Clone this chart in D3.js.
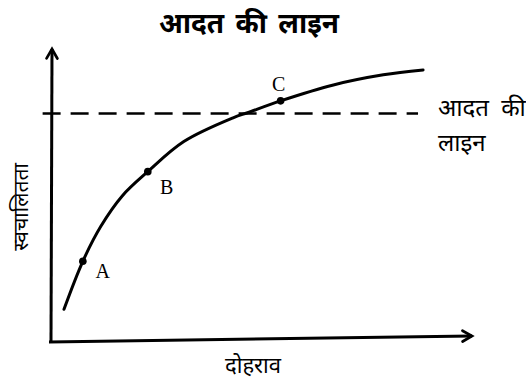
<!DOCTYPE html>
<html lang="hi">
<head>
<meta charset="UTF-8">
<title>आदत की लाइन</title>
<script src="https://d3js.org/d3.v7.min.js"></script>
<style>
  body { margin: 0; background: #fff; }
  .hi { font-family: "Noto Sans Devanagari", "Lohit Devanagari", "Noto Sans", sans-serif; fill: #000; }
  .pt { font-family: "Liberation Serif", "DejaVu Serif", serif; font-size: 20px; fill: #000; }
</style>
</head>
<body>
<svg id="chart" width="526" height="385"></svg>
<script>
// curve: repetition (x) vs automaticity (y), 0..100
const repetition   = [3.1, 7.6, 11.9, 17.0, 23.1, 31.7, 43.6, 46.9, 54.8, 67.4, 79.3, 88.8];
const automaticity = [10.3, 26.9, 39.0, 49.5, 57.9, 68.3, 76.6, 78.3, 82.4, 87.9, 91.4, 93.1];

// marked points A, B, C
const pointLabels = ["A", "B", "C"];
const pointX = [7.6, 23.1, 54.8];
const pointY = [26.9, 57.9, 82.4];

const habitLevel = 78.0;
const habitRange = [-2, 87.6];

const title = "आदत की लाइन";
const xLabel = "दोहराव";
const yLabel = "स्वचालितता";
const habitLabel = ["आदत की", "लाइन"];

const svg = d3.select("#chart");
const margin = { top: 50, right: 56, bottom: 46, left: 51 };
const width = 526 - margin.left - margin.right;
const height = 385 - margin.top - margin.bottom;

const x = d3.scaleLinear().domain([0, 100]).range([margin.left, margin.left + width]);
const y = d3.scaleLinear().domain([0, 100]).range([margin.top + height, margin.top]);

// arrow heads
const defs = svg.append("defs");
defs.append("marker")
    .attr("id", "arrow")
    .attr("viewBox", "0 0 10 10")
    .attr("refX", 8).attr("refY", 5)
    .attr("markerWidth", 4.5).attr("markerHeight", 4.5)
    .attr("orient", "auto")
    .append("path")
    .attr("d", "M1,1 L8,5 L1,9")
    .attr("fill", "none")
    .attr("stroke", "#000")
    .attr("stroke-width", 2)
    .attr("stroke-linecap", "round");

// axes
svg.append("line")
    .attr("x1", x(0)).attr("y1", y(0) + 3)
    .attr("x2", x(0) + 1).attr("y2", y(100) - 1)
    .attr("stroke", "#000").attr("stroke-width", 3)
    .attr("marker-end", "url(#arrow)");

svg.append("line")
    .attr("x1", x(0) - 2).attr("y1", y(0) + 3)
    .attr("x2", x(100) + 2).attr("y2", y(0) - 3)
    .attr("stroke", "#000").attr("stroke-width", 3)
    .attr("marker-end", "url(#arrow)");

// habit line
svg.append("line")
    .attr("x1", x(habitRange[0])).attr("y1", y(habitLevel))
    .attr("x2", x(habitRange[1])).attr("y2", y(habitLevel))
    .attr("stroke", "#000").attr("stroke-width", 2.5)
    .attr("stroke-dasharray", "18 10");

// curve
const pts = repetition.map((d, i) => [d, automaticity[i]]);
const line = d3.line()
    .x(d => x(d[0]))
    .y(d => y(d[1]))
    .curve(d3.curveCatmullRom.alpha(0.5));

svg.append("path")
    .datum(pts)
    .attr("d", line)
    .attr("fill", "none")
    .attr("stroke", "#000")
    .attr("stroke-width", 3)
    .attr("stroke-linecap", "round");

svg.selectAll(".dot")
    .data(pointLabels)
    .enter().append("circle")
    .attr("class", "dot")
    .attr("cx", (d, i) => x(pointX[i]))
    .attr("cy", (d, i) => y(pointY[i]))
    .attr("r", 3.8)
    .attr("fill", "#000");

const labelOffset = [[20, 12], [19, 18], [-2, -14]];
svg.selectAll(".pt")
    .data(pointLabels)
    .enter().append("text")
    .attr("class", "pt")
    .attr("x", (d, i) => x(pointX[i]) + labelOffset[i][0])
    .attr("y", (d, i) => y(pointY[i]) + labelOffset[i][1])
    .attr("text-anchor", "middle")
    .attr("dominant-baseline", "middle")
    .text(d => d);

// texts
svg.append("text")
    .attr("class", "hi")
    .attr("x", 249).attr("y", 33)
    .attr("text-anchor", "middle")
    .attr("font-size", 28)
    .attr("font-weight", "bold")
    .attr("word-spacing", 4)
    .text(title);

svg.append("text")
    .attr("class", "hi")
    .attr("x", 253).attr("y", 373)
    .attr("text-anchor", "middle")
    .attr("font-size", 22)
    .text(xLabel);

svg.append("text")
    .attr("class", "hi")
    .attr("transform", "translate(28,207) rotate(-90)")
    .attr("text-anchor", "middle")
    .attr("font-size", 21)
    .text(yLabel);

svg.selectAll(".hl")
    .data(habitLabel)
    .enter().append("text")
    .attr("class", "hi hl")
    .attr("x", 438)
    .attr("y", (d, i) => 116 + i * 35)
    .attr("font-size", 24)
    .attr("word-spacing", 6)
    .text(d => d);
</script>
</body>
</html>
